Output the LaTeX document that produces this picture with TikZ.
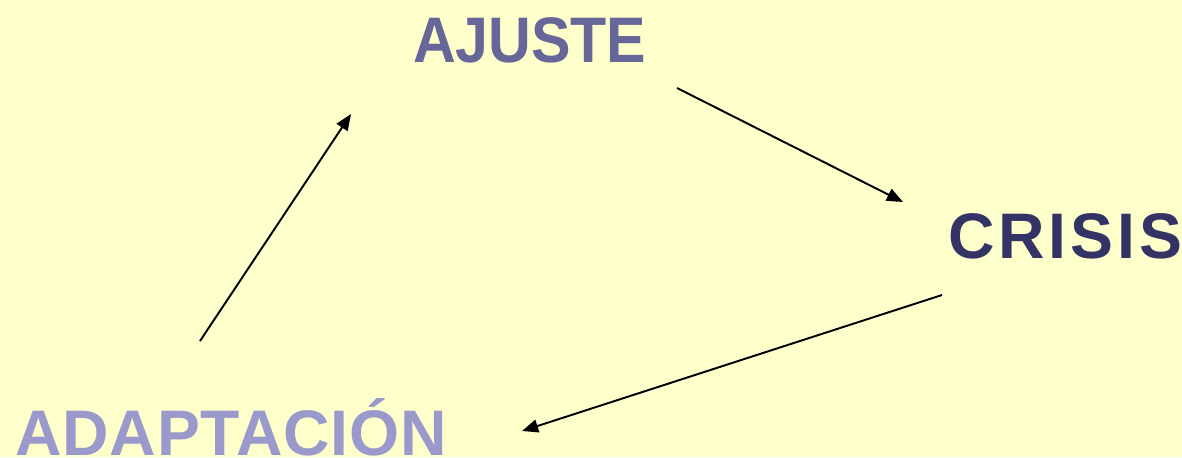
\documentclass[tikz,border=0pt]{standalone}
\usepackage{fontspec}
\setmainfont{Liberation Sans}
\usetikzlibrary{arrows.meta}

\definecolor{bgyellow}{HTML}{FFFFCC}
\definecolor{ajustecol}{HTML}{666699}
\definecolor{crisiscol}{HTML}{333366}
\definecolor{adaptcol}{HTML}{9999CC}

\begin{document}
\begin{tikzpicture}[x=0.01cm, y=-0.01cm,
    word/.style={inner sep=0pt, anchor=base, font=\fontsize{18.3}{20}\selectfont\bfseries},
    flow/.style={-{Triangle[length=4.6pt, width=3.7pt]}, line width=0.55pt}]
      \fill[bgyellow] (0,0) rectangle (1182,457);
      \useasboundingbox (0,0) rectangle (1182,457);

      \node[word, text=ajustecol, xscale=0.92, transform shape] (ajuste) at (529.5,62) {\addfontfeature{LetterSpace=-0.5}AJUSTE};
      \node[word, text=crisiscol] (crisis) at (1065,258) {\addfontfeature{LetterSpace=6}CRISIS};
      \node[word, text=adaptcol] (adapt) at (231,455) {\addfontfeature{LetterSpace=1.2}ADAPTACIÓN};

      \coordinate (adapt-out) at (200,341);
      \coordinate (ajuste-in) at (351,114);
      \coordinate (ajuste-out) at (677,88);
      \coordinate (crisis-in) at (903,202);
      \coordinate (crisis-out) at (942,295);
      \coordinate (adapt-in) at (522,431);

      \draw[flow] (adapt-out) -- (ajuste-in);
      \draw[flow] (ajuste-out) -- (crisis-in);
      \draw[flow] (crisis-out) -- (adapt-in);
\end{tikzpicture}
\end{document}
